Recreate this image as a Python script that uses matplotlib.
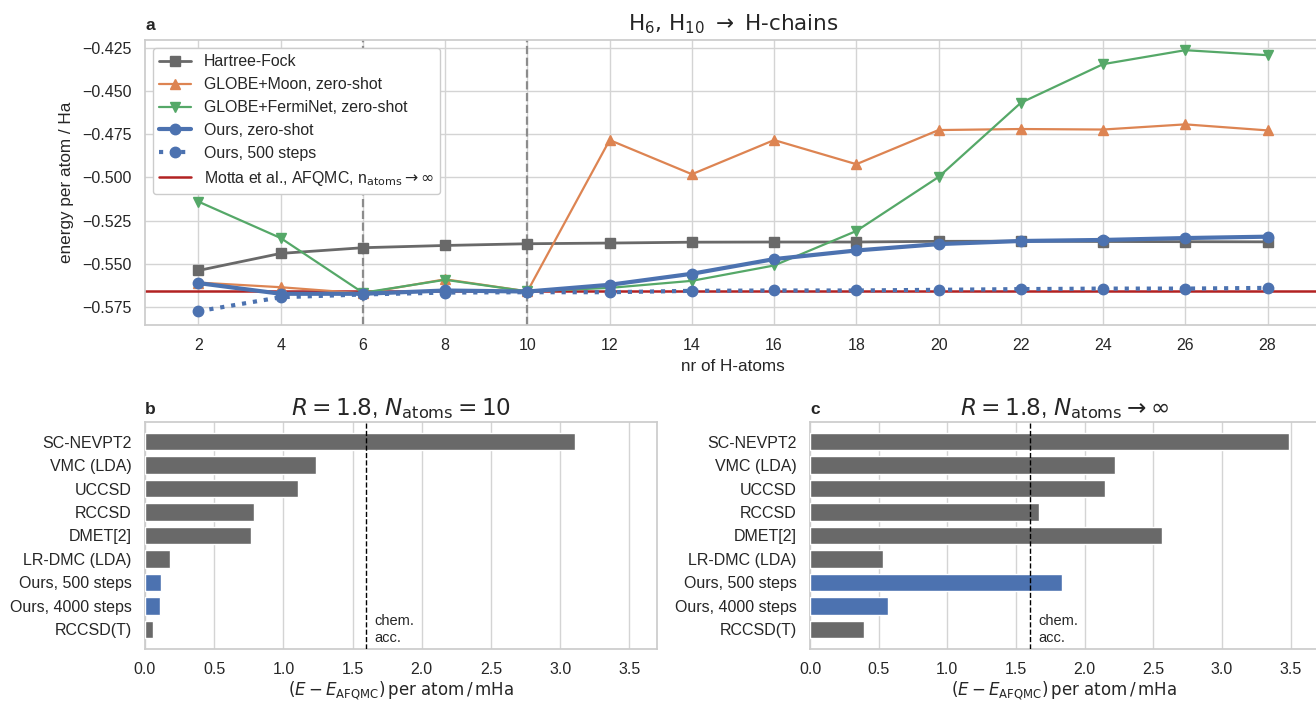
import numpy as np
import matplotlib
matplotlib.use("Agg")
import matplotlib.pyplot as plt
import seaborn as sns

# ---------------- data ----------------
n_atoms = [2, 4, 6, 8, 10, 12, 14, 16, 18, 20, 22, 24, 26, 28]

e_hf = [-0.5539, -0.5440, -0.5407, -0.5394, -0.5384, -0.5380, -0.5375, -0.5374,
        -0.5374, -0.5370, -0.5369, -0.5371, -0.5372, -0.5373]
e_globe_moon = [-0.5609, -0.5636, -0.5672, -0.5590, -0.5660, -0.4783, -0.4981, -0.4783,
                -0.4923, -0.4725, -0.4719, -0.4722, -0.4692, -0.4727]
e_globe_fermi = [-0.5140, -0.5351, -0.5668, -0.5593, -0.5660, -0.5640, -0.5599, -0.5510,
                 -0.5310, -0.4997, -0.4567, -0.4343, -0.4262, -0.4291]
e_ours_zero = [-0.5612, -0.5674, -0.5674, -0.5655, -0.5661, -0.5622, -0.5558, -0.5473,
               -0.5423, -0.5386, -0.5368, -0.5362, -0.5351, -0.5343]
e_ours_500 = [-0.5775, -0.5694, -0.5678, -0.5667, -0.5665, -0.5665, -0.5657, -0.5655,
              -0.5655, -0.5651, -0.5647, -0.5644, -0.5644, -0.5640]
e_afqmc = -0.5659

methods = ["SC-NEVPT2", "VMC (LDA)", "UCCSD", "RCCSD", "DMET[2]", "LR-DMC (LDA)",
           "Ours, 500 steps", "Ours, 4000 steps", "RCCSD(T)"]
err_n10 = [3.106, 1.237, 1.106, 0.787, 0.769, 0.182, 0.119, 0.112, 0.055]
err_inf = [3.488, 2.224, 2.146, 1.671, 2.563, 0.535, 1.834, 0.571, 0.393]
is_ours = [False, False, False, False, False, False, True, True, False]
chem_acc = 1.6

# ---------------- style ----------------
sns.set_theme(style="whitegrid")
plt.rcParams['font.family'] = ['Liberation Sans', 'DejaVu Sans']
plt.rcParams['mathtext.fontset'] = 'dejavusans'
plt.rcParams['axes.edgecolor'] = '#cccccc'
plt.rcParams['grid.color'] = '#d4d4d4'
plt.rcParams['axes.unicode_minus'] = True

GRAY = '#696969'
ORANGE = '#dd8452'
GREEN = '#55a868'
BLUE = '#4c72b0'
RED = '#b22222'
TXT = '#262626'

TICK_FS = 11.5
LABEL_FS = 12.3

fig = plt.figure(figsize=(13.16, 7.01), dpi=100)
W, H = 1316, 701


def box(x0, y0, x1, y1):
    return [x0 / W, 1 - y1 / H, (x1 - x0) / W, (y1 - y0) / H]


ax_a = fig.add_axes(box(145, 40, 1321, 325))
ax_b = fig.add_axes(box(145, 422, 657, 649))
ax_c = fig.add_axes(box(810, 422, 1318, 649))

# ---------------- panel a ----------------
ax_a.plot(n_atoms, e_hf, color=GRAY, marker='s', ms=7, lw=2, label='Hartree-Fock', zorder=3)
ax_a.plot(n_atoms, e_globe_moon, color=ORANGE, marker='^', ms=7, lw=1.6,
          label='GLOBE+Moon, zero-shot', zorder=3)
ax_a.plot(n_atoms, e_globe_fermi, color=GREEN, marker='v', ms=7, lw=1.6,
          label='GLOBE+FermiNet, zero-shot', zorder=3)
ax_a.plot(n_atoms, e_ours_zero, color=BLUE, marker='o', ms=7.5, lw=3,
          label='Ours, zero-shot', zorder=5)
ax_a.plot(n_atoms, e_ours_500, color=BLUE, marker='o', ms=7.5, lw=3, ls=':',
          label='Ours, 500 steps', zorder=4)
ax_a.axhline(e_afqmc, color=RED, lw=1.8, zorder=2,
             label=r'Motta et al., AFQMC, n$_{\mathrm{atoms}}\rightarrow\infty$')
for xv in [6, 10]:
    ax_a.axvline(xv, color='#8c8c8c', ls='--', lw=1.6, zorder=2.5)

ax_a.set_xlim(0.7, 29.3)
ax_a.set_ylim(-0.5855, -0.4203)
ax_a.set_xticks(n_atoms)
ax_a.set_yticks(np.arange(-0.575, -0.42, 0.025))
ax_a.yaxis.set_major_formatter(
    matplotlib.ticker.FuncFormatter(lambda v, p: ('%.3f' % v).replace('-', '\u2212')))
ax_a.set_xlabel('nr of H-atoms', fontsize=LABEL_FS, color=TXT, labelpad=4)
ax_a.set_ylabel('energy per atom / Ha', fontsize=LABEL_FS, color=TXT, labelpad=6)
ax_a.set_title(r'H$_6$, H$_{10}$ $\rightarrow$ H-chains', fontsize=15.5, color=TXT,
               family='DejaVu Sans', pad=7)
ax_a.legend(loc='upper left', fontsize=11.4, frameon=True, framealpha=1,
            edgecolor='#cccccc')
ax_a.text(0.0, 1.025, 'a', transform=ax_a.transAxes, fontsize=12.5, fontweight='bold',
          ha='left', va='bottom', color=TXT)

# ---------------- panels b, c ----------------
bar_colors = [BLUE if o else GRAY for o in is_ours]
ypos = np.arange(len(methods))
titles = [r'$R = 1.8$, $N_{\mathrm{atoms}} = 10$',
          r'$R = 1.8$, $N_{\mathrm{atoms}} \rightarrow \infty$']
for ax, vals, ttl, letter in [(ax_b, err_n10, titles[0], 'b'), (ax_c, err_inf, titles[1], 'c')]:
    ax.barh(ypos, vals, height=0.75, color=bar_colors, zorder=3)
    ax.axvline(chem_acc, color='black', ls='--', lw=1, zorder=4)
    ax.text(chem_acc + 0.06, 8.0, 'chem.\nacc.', fontsize=10.5, color=TXT,
            ha='left', va='center', linespacing=1.2)
    ax.set_yticks(ypos)
    ax.set_yticklabels(methods)
    ax.set_ylim(len(methods) - 1 + 0.83, -0.83)
    ax.set_xlim(0, 3.7)
    ax.set_xticks(np.arange(0, 3.51, 0.5))
    ax.xaxis.set_major_formatter(matplotlib.ticker.FormatStrFormatter('%.1f'))
    ax.grid(axis='y', visible=False)
    ax.set_xlabel(r'$(E - E_{\mathrm{AFQMC}})\,\mathrm{per\ atom}\,/\,\mathrm{mHa}$',
                  fontsize=12, color=TXT, labelpad=1.5)
    ax.set_title(ttl, fontsize=16.7, color=TXT, pad=5)
    ax.text(0.0, 1.02, letter, transform=ax.transAxes, fontsize=12.5, fontweight='bold',
            ha='left', va='bottom', color=TXT)

for ax in [ax_a, ax_b, ax_c]:
    ax.tick_params(axis='both', which='both', length=0, pad=9.5, labelsize=TICK_FS,
                   labelcolor=TXT)
    for sp in ax.spines.values():
        sp.set_linewidth(1.25)
        sp.set_color('#cccccc')

fig.savefig('out.png', dpi=100)
